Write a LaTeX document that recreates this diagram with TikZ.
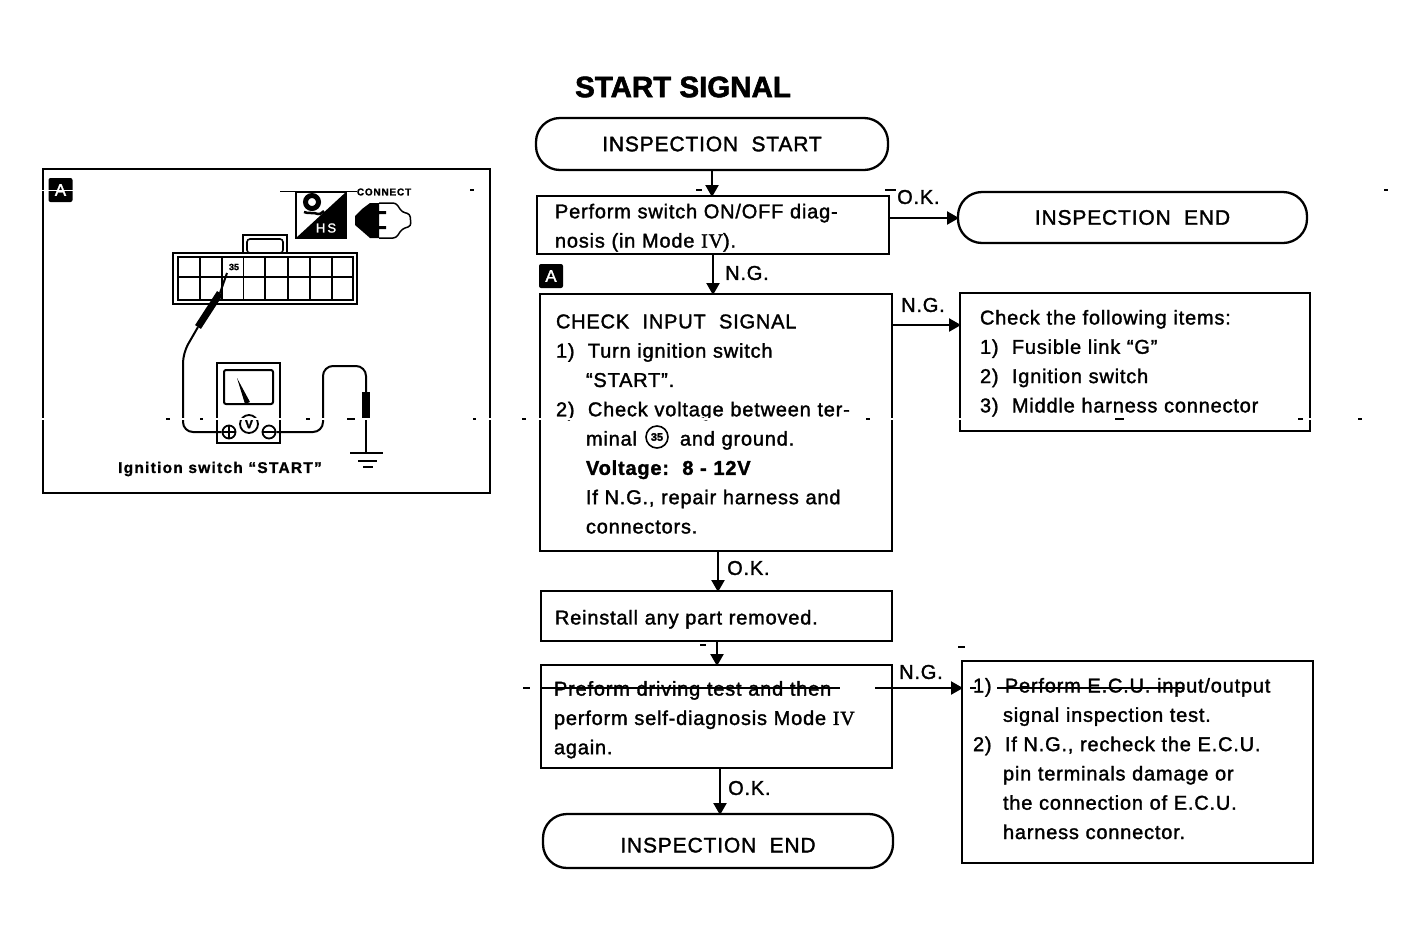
\documentclass[tikz,border=0pt]{standalone}
\usepackage{fontspec}
\setmainfont{Liberation Sans}[FakeBold=1.6,LetterSpace=4]
\newfontfamily\serf{Liberation Serif}[FakeBold=1.6,LetterSpace=4]
\newfontfamily\heavy{Liberation Sans}[UprightFont=* Bold,FakeBold=2]
\newfontfamily\heavyw{Liberation Sans}[UprightFont=* Bold,FakeBold=1.2,LetterSpace=8]
\usetikzlibrary{arrows.meta,calc}
\newcommand{\fs}{\fontsize{20}{29.3}\selectfont}
\newcommand{\ind}{\hspace*{30pt}}
\newcommand{\topx}[1]{\rule{0pt}{#1pt}}
\newcommand{\botx}[1]{\rule[-#1pt]{0pt}{1pt}}
\tikzset{
 x=1pt,y=-1pt,
 every node/.style={font=\fs},
 ln/.style={line width=2.3pt,black},
 box/.style={draw,ln,rectangle,anchor=north west,align=left,inner ysep=0pt,outer sep=0pt},
 term/.style={draw,ln,rectangle,rounded corners=24pt,anchor=north west,align=center,inner sep=0pt,outer sep=0pt,font=\fontsize{21}{22}\selectfont},
 arr/.style={ln,-{Triangle[length=12pt,width=13pt]},shorten >=-1pt},
 lab/.style={inner sep=0pt,anchor=west},
 wire/.style={line width=2pt,black,rounded corners=10pt},
 speck/.style={line width=1.5pt,black},
 tag/.style={fill=black,text=white,rounded corners=2pt,minimum width=24pt,minimum height=24pt,inner sep=0pt,font=\fontsize{17}{17}\selectfont},
}
\begin{document}
\begin{tikzpicture}
\useasboundingbox (0,0) rectangle (1426,946);
% title
\node[inner sep=0pt,font=\fontsize{29.5}{30}\heavy] (title) at (683,87) {START SIGNAL};
% flow
\node[term,minimum width=352pt,minimum height=52pt] (start) at (536,118) {INSPECTION\ \ START};
\node[box,minimum width=352pt,minimum height=58pt,text width=316pt,inner xsep=18pt] (perform) at (537,196) {\topx{20}Perform switch ON/OFF diag-\\nosis (in Mode {\serf IV}).};
\node[term,minimum width=349pt,minimum height=51pt] (endA) at (958,192) {INSPECTION\ \ END};
\node[tag] (tagB) at (551,276) {A};
\node[box,minimum width=352pt,minimum height=257pt,text width=320pt,inner xsep=16pt] (check) at (540,294) {\topx{17}CHECK\ \ INPUT\ \ SIGNAL\\1)\ \ Turn ignition switch\\\ind “START”.\\2)\ \ Check voltage between ter-\\\ind minal\hspace*{43pt}and ground.\\\ind \textbf{Voltage:\ \ 8 - 12V}\\\ind If N.G., repair harness and\\\ind connectors.};
\node[draw,circle,line width=1.6pt,inner sep=0pt,minimum size=22pt,font=\fontsize{11}{11}\heavy] (t35) at (657,437) {35};
\node[box,minimum width=350pt,minimum height=138pt,text width=310pt,inner xsep=20pt] (items) at (960,293) {\topx{17}Check the following items:\\1)\ \ Fusible link “G”\\2)\ \ Ignition switch\\3)\ \ Middle harness connector};
\node[box,minimum width=351pt,minimum height=50pt,text width=323pt,inner xsep=14pt] (reinstall) at (541,591) {\topx{21}Reinstall any part removed.};
\node[box,minimum width=351pt,minimum height=103pt,text width=325pt,inner xsep=13pt] (drive) at (541,665) {\topx{21}Preform driving test and then\\perform self-diagnosis Mode {\serf IV}\\again.};
\node[box,minimum width=351pt,minimum height=202pt,text width=329pt,inner xsep=11pt] (ecu) at (962,661) {1)\ \ Perform E.C.U. input/output\\\ind signal inspection test.\\2)\ \ If N.G., recheck the E.C.U.\\\ind pin terminals damage or\\\ind the connection of E.C.U.\\\ind harness connector.\botx{7}};
\node[term,minimum width=350pt,minimum height=54pt] (endB) at (543,814) {\topx{23}INSPECTION\ \ END};
% connectors
\coordinate (outA) at (889,218);
\coordinate (outB) at (892,325);
\coordinate (outC) at (892,688);
\coordinate (perfS) at (713,254);
\coordinate (chkS) at (718,551);
\coordinate (relS) at (717,641);
\coordinate (drvS) at (720,768);
\draw[arr] (start.south) -- (start.south |- perform.north);
\draw[arr] (outA) -- (outA -| endA.west);
\draw[arr] (perfS) -- (perfS |- check.north);
\draw[arr] (outB) -- (outB -| items.west);
\draw[arr] (chkS) -- (chkS |- reinstall.north);
\draw[arr] (relS) -- (relS |- drive.north);
\draw[arr] (outC) -- (outC -| ecu.west);
\draw[arr] (drvS) -- (drvS |- endB.north);
% connector labels
\node[lab] (okA) at (897,197) {O.K.};
\node[lab] (ngA) at (725,273) {N.G.};
\node[lab] (ngB) at (901,305) {N.G.};
\node[lab] (okB) at (727,568) {O.K.};
\node[lab] (ngC) at (899,672) {N.G.};
\node[lab] (okC) at (728,788) {O.K.};
% ---- illustration panel
\node[draw,ln,rectangle,anchor=north west,minimum width=447pt,minimum height=324pt,inner sep=0pt,outer sep=0pt] (panel) at (43,169) {};
\node[tag] (tagA) at (60.5,190) {A};
% HS icon
\draw[line width=1.3pt] (296,192) rectangle (346,238);
\fill (346,192) -- (346,238) -- (296,238) -- cycle;
\draw[line width=5pt] (312,202) circle (6.5pt);
\draw[line width=2.5pt] (304,212) .. controls (308,214) and (314,212) .. (318,214) .. controls (320,215) and (321,213) .. (324,211);
\node[text=white,inner sep=0pt,font=\fontsize{13}{13}\selectfont] (hs) at (326,228) {H\,S};
% connect icon
\node[inner sep=0pt,font=\fontsize{10}{10}\heavyw] (conn) at (384,192) {CONNECT};
\fill (370,203) -- (379,203) -- (379,211) -- (386,211) -- (386,214) -- (379,214) -- (379,226) -- (386,226) -- (386,229) -- (379,229) -- (379,238) -- (370,238) -- (362,231) -- (355,225) -- (355,216) -- (362,209) -- cycle;
\draw[line width=1.5pt,rounded corners=3pt] (379,203) -- (396,203) -- (402,212) -- (410,214) -- (411,226) -- (402,229) -- (396,238) -- (379,238);
\draw[line width=1pt] (280,191) -- (357,191);
% harness connector
\draw[line width=2pt] (173,253) rectangle (357,304);
\draw[line width=1.6pt] (178,257) rectangle (353,300);
\draw[line width=1.6pt] (178,277) -- (353,277);
\foreach \x in {200,221.7,243.3,265,288,310,331.7}{\draw[line width=1.6pt] (\x,257) -- (\x,300);}
\draw[line width=2pt] (243,253) -- (243,235) -- (287,235) -- (287,253);
\draw[line width=1.6pt,rounded corners=3pt] (247,253) -- (247,239) -- (283,239) -- (283,253) -- cycle;
\fill[white] (222.5,258) rectangle (242.5,276);
\node[inner sep=0pt,font=\fontsize{9}{9}\heavy] (p35) at (234,267) {35};
% meter
\draw[line width=2pt] (217,363) rectangle (280,443);
\draw[line width=2pt,rounded corners=2pt] (224,370) rectangle (273,404);
\fill (237,378) -- (245,404) -- (250,402) -- cycle;
\node[draw,circle,line width=1.8pt,inner sep=0pt,minimum size=18pt,font=\fontsize{12}{12}\heavy] (vv) at (249,424) {V};
\node[draw,circle,line width=1.8pt,inner sep=0pt,minimum size=13pt] (plus) at (229,432) {};
\draw[line width=1.6pt] (plus.west) -- (plus.east) (plus.north) -- (plus.south);
\node[draw,circle,line width=1.8pt,inner sep=0pt,minimum size=13pt] (minus) at (269,432) {};
\draw[line width=1.6pt] (minus.west) -- (minus.east);
% leads
\coordinate (tip) at (227,273);
\coordinate (probeA) at (220,293);
\coordinate (probeB) at (198,327);
\draw[line width=2pt] (tip) -- (probeA);
\draw[line width=7pt] (probeA) -- (probeB);
\draw[wire] (probeB) -- (183,353) -- (183,432) -- (plus.west);
\draw[wire] (minus.east) -- (323,432) -- (323,366) -- (366,366) -- (366,392);
\draw[line width=8pt] (366,392) -- (366,420);
\draw[line width=2.5pt] (366,420) -- (366,453);
\draw[line width=2pt] (350,453) -- (383,453) (358,461) -- (377,461) (363,467) -- (373,467);
\node[inner sep=0pt,font=\fontsize{15.5}{16}\heavyw] (ign) at (220,469) {Ignition switch “START”};
% scan marks
\draw[white,line width=2pt] (36,419) -- (1320,419);
\draw[white,line width=1pt] (38,190.5) -- (75,190.5);
\draw[speck] (166,419) -- (170,419) (200,419) -- (203,419) (306,419) -- (310,419) (347,419) -- (355,419) (473,419) -- (476,419) (522,419) -- (526,419) (866,419) -- (870,419) (1115,419) -- (1124,419) (1298,419) -- (1303,419) (1358,419) -- (1362,419);
\draw[line width=1.5pt] (523,688) -- (530,688) (540,688) -- (840,688) (875,688) -- (892,688);
\draw[line width=1.2pt] (970,688) -- (976,688) (997,688) -- (1183,688);
\draw[speck] (470,190) -- (474,190) (1384,190) -- (1388,190) (696,190) -- (702,190) (885,190) -- (896,190) (958,647) -- (965,647) (700,645) -- (706,645);
\end{tikzpicture}
\end{document}
